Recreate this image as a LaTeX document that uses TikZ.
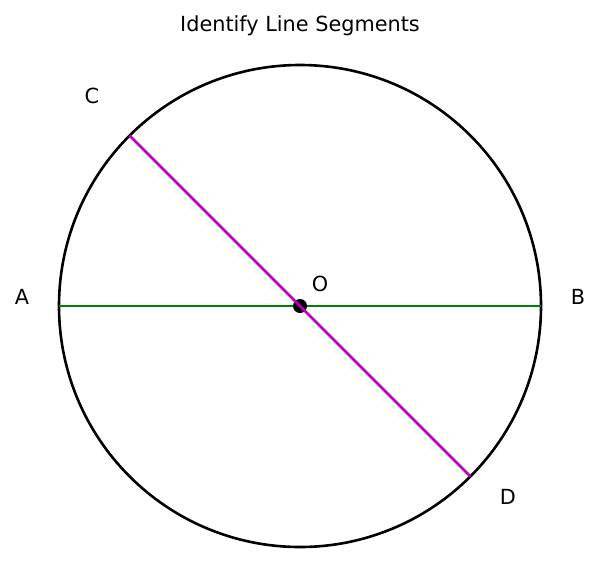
\documentclass[tikz,border=0pt]{standalone}
\usepackage{fontspec}
\setmainfont{DejaVu Sans}
\definecolor{mplgreen}{HTML}{008000}
\definecolor{mplmag}{HTML}{BF00BF}
\tikzset{lbl/.style={font=\fontsize{20.8}{24}\selectfont, inner sep=0pt}}
\begin{document}
\begin{tikzpicture}[x=1pt,y=-1pt]
\useasboundingbox (0,0) rectangle (599,584);
\node[lbl] (title) at (300,25.5) {Identify Line Segments};
\coordinate (O) at (300,306);
\coordinate (A) at (59,306);
\coordinate (B) at (541,306);
\coordinate (C) at (129.6,135.6);
\coordinate (D) at (470.4,476.4);
\draw[line width=2.6pt] (O) circle[radius=241];
\draw[mplgreen, line width=2.8pt] (A) -- (B);
\fill (O) circle[radius=7];
\draw[mplmag, line width=2.6pt] (C) -- (D);
\node[lbl] (lA) at (22,297) {A};
\node[lbl] (lB) at (578,297) {B};
\node[lbl] (lC) at (92,96) {C};
\node[lbl] (lD) at (508,497) {D};
\node[lbl] (lO) at (320,284) {O};
\end{tikzpicture}
\end{document}
